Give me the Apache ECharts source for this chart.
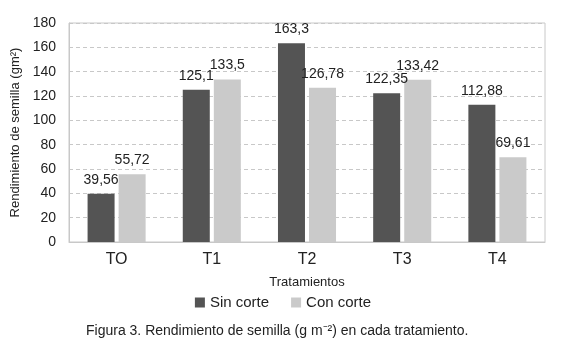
<!DOCTYPE html>
<html>
<head>
<meta charset="utf-8">
<script src="https://cdn.jsdelivr.net/npm/echarts@6/dist/echarts.min.js"></script>
<style>
  html, body { margin: 0; padding: 0; background: #fff; }
  #chart { width: 566px; height: 349px; }
</style>
</head>
<body>
<div id="chart"></div>
<script>
// datos
var categories = ["TO", "T1", "T2", "T3", "T4"];
var sinCorte = [39.56, 125.1, 163.3, 122.35, 112.88];
var conCorte = [55.72, 133.5, 126.78, 133.42, 69.61];
var seriesNames = ["Sin corte", "Con corte"];

var chart = echarts.init(document.getElementById("chart"));
var font = "Liberation Sans, Arial, sans-serif";

function labelFmt(p) {
  return String(p.value).replace(".", ",");
}

chart.setOption({
  animation: false,
  textStyle: { fontFamily: font },
  grid: { left: 69, right: 21, top: 23, bottom: 107, show: true, borderColor: "#c8c8c8", borderWidth: 1 },
  legend: {
    data: seriesNames,
    top: 290,
    left: "center",
    icon: "rect",
    itemWidth: 10,
    itemHeight: 10,
    itemGap: 22,
    textStyle: { color: "#222", fontSize: 15, fontFamily: font }
  },
  title: {
    text: "Figura 3. Rendimiento de semilla (g m\u207B\u00B2) en cada tratamiento.",
    left: 81,
    top: 319,
    textStyle: { color: "#222", fontSize: 14, fontWeight: "normal", fontFamily: font }
  },
  xAxis: {
    type: "category",
    data: categories,
    name: "Tratamientos",
    nameLocation: "middle",
    nameGap: 34,
    nameTextStyle: { color: "#222", fontSize: 13, fontFamily: font },
    axisTick: { show: false },
    axisLine: { lineStyle: { color: "#c8c8c8" } },
    axisLabel: { color: "#222", fontSize: 16, margin: 10, fontFamily: font }
  },
  yAxis: {
    type: "value",
    min: 0,
    max: 180,
    interval: 20,
    name: "Rendimiento de semilla (gm\u00B2)",
    nameLocation: "middle",
    nameGap: 44,
    nameTextStyle: { color: "#222", fontSize: 13, fontFamily: font },
    axisLine: { show: true, lineStyle: { color: "#c8c8c8" } },
    axisTick: { show: false },
    axisLabel: { color: "#222", fontSize: 14, margin: 13, fontFamily: font },
    splitLine: { lineStyle: { color: "#c8c8c8", type: [4, 3] } }
  },
  series: [
    {
      name: seriesNames[0],
      type: "bar",
      data: sinCorte,
      barWidth: 27,
      barGap: "15%",
      itemStyle: { color: "#545454" },
      label: { show: true, position: "top", distance: 7, color: "#222", fontSize: 14, formatter: labelFmt }
    },
    {
      name: seriesNames[1],
      type: "bar",
      data: conCorte,
      barWidth: 27,
      barGap: "15%",
      itemStyle: { color: "#cacaca" },
      label: { show: true, position: "top", distance: 7, color: "#222", fontSize: 14, formatter: labelFmt }
    }
  ]
});
</script>
</body>
</html>
